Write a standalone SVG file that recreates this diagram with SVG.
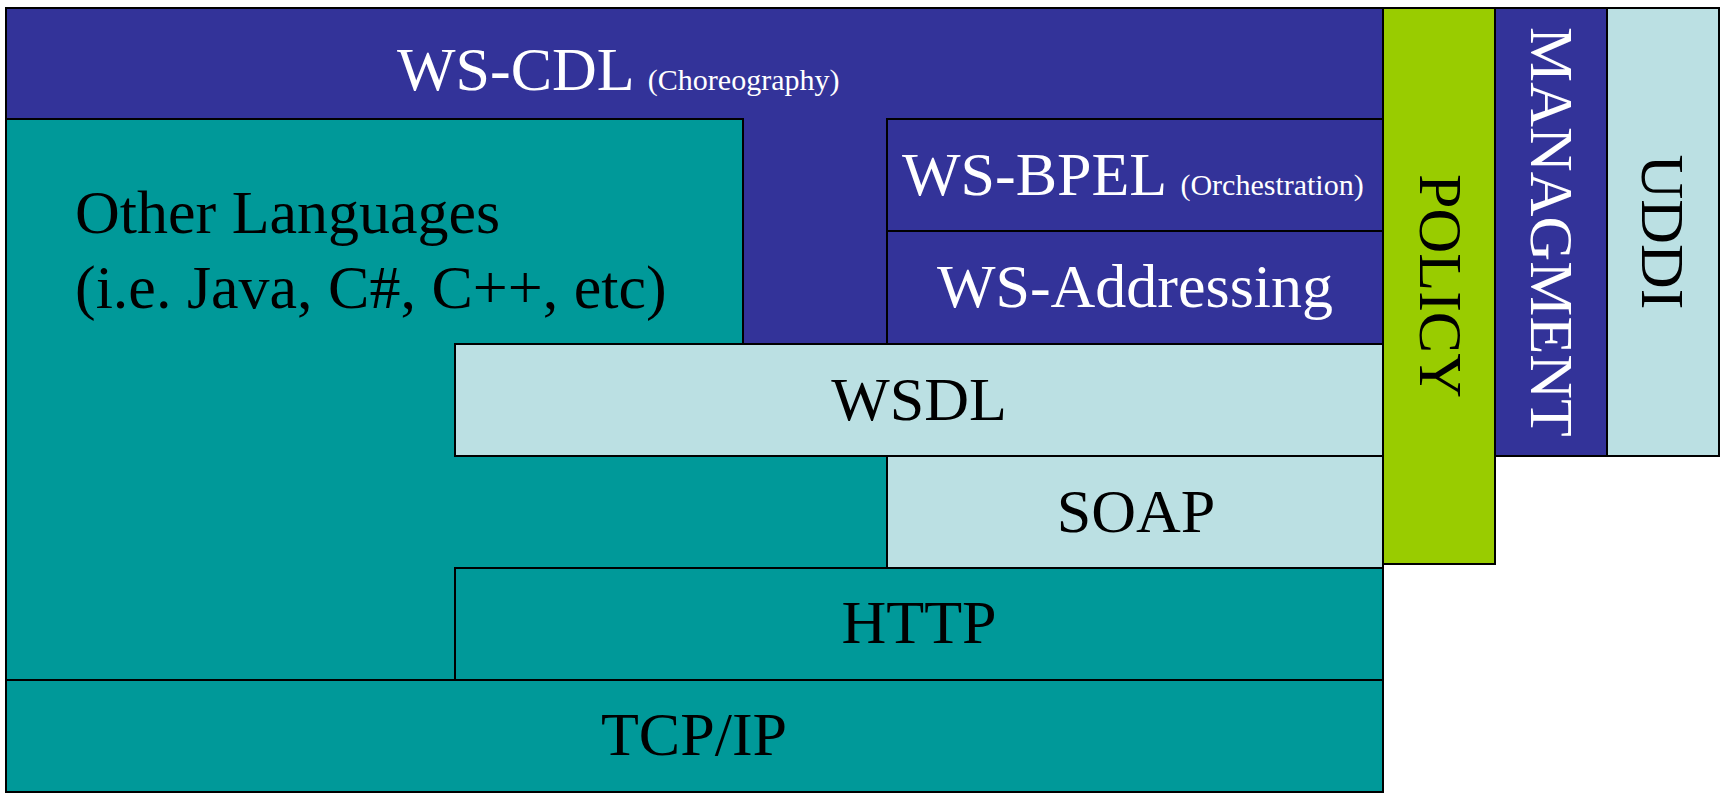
<svg xmlns="http://www.w3.org/2000/svg" width="1729" height="794" viewBox="0 0 1729 794">
<style>
.box { stroke: #000; stroke-width: 2; }
.blue { fill: #333399; }
.teal { fill: #009999; }
.light { fill: #BBE0E3; }
.green { fill: #99CC00; }
text { font-family: "Liberation Serif", "Times New Roman", serif; font-size: 62px; }
.w { fill: #FFFFFF; }
.k { fill: #000000; }
.sm { font-size: 30px; }
.mid { text-anchor: middle; }
</style>
<rect x="0" y="0" width="1729" height="794" fill="#FFFFFF"/>
<g id="ws-cdl">
<rect class="box blue" x="6" y="8" width="1377" height="336"/>
<text class="w" x="397" y="90">WS-CDL <tspan class="sm">(Choreography)</tspan></text>
</g>
<g id="other-languages">
<path class="box teal" d="M6,119 H743 V344 H887 V568 H455 V680 H6 Z"/>
<text class="k" x="75" y="233">Other Languages</text>
<text class="k" x="75" y="308">(i.e. Java, C#, C++, etc)</text>
</g>
<g id="ws-bpel">
<rect class="box blue" x="887" y="119" width="496" height="112"/>
<text class="w" x="902" y="195">WS-BPEL <tspan class="sm">(Orchestration)</tspan></text>
</g>
<g id="ws-addressing">
<rect class="box blue" x="887" y="231" width="496" height="113"/>
<text class="w mid" x="1135" y="307">WS-Addressing</text>
</g>
<g id="wsdl">
<rect class="box light" x="455" y="344" width="928" height="112"/>
<text class="k mid" x="919" y="420">WSDL</text>
</g>
<g id="soap">
<rect class="box light" x="887" y="456" width="496" height="112"/>
<text class="k mid" x="1136" y="532">SOAP</text>
</g>
<g id="http">
<rect class="box teal" x="455" y="568" width="928" height="112"/>
<text class="k mid" x="919" y="643">HTTP</text>
</g>
<g id="tcp-ip">
<rect class="box teal" x="6" y="680" width="1377" height="112"/>
<text class="k mid" x="694" y="755">TCP/IP</text>
</g>
<g id="policy">
<rect class="box green" x="1383" y="8" width="112" height="556"/>
<text class="k mid" transform="translate(1420,286) rotate(90)">POLICY</text>
</g>
<g id="managment">
<rect class="box blue" x="1495" y="8" width="112" height="448"/>
<text class="w mid" transform="translate(1531,232) rotate(90)">MANAGMENT</text>
</g>
<g id="uddi">
<rect class="box light" x="1607" y="8" width="112" height="448"/>
<text class="k mid" transform="translate(1642,232) rotate(90)">UDDI</text>
</g>
<g id="connectors"/>
</svg>
